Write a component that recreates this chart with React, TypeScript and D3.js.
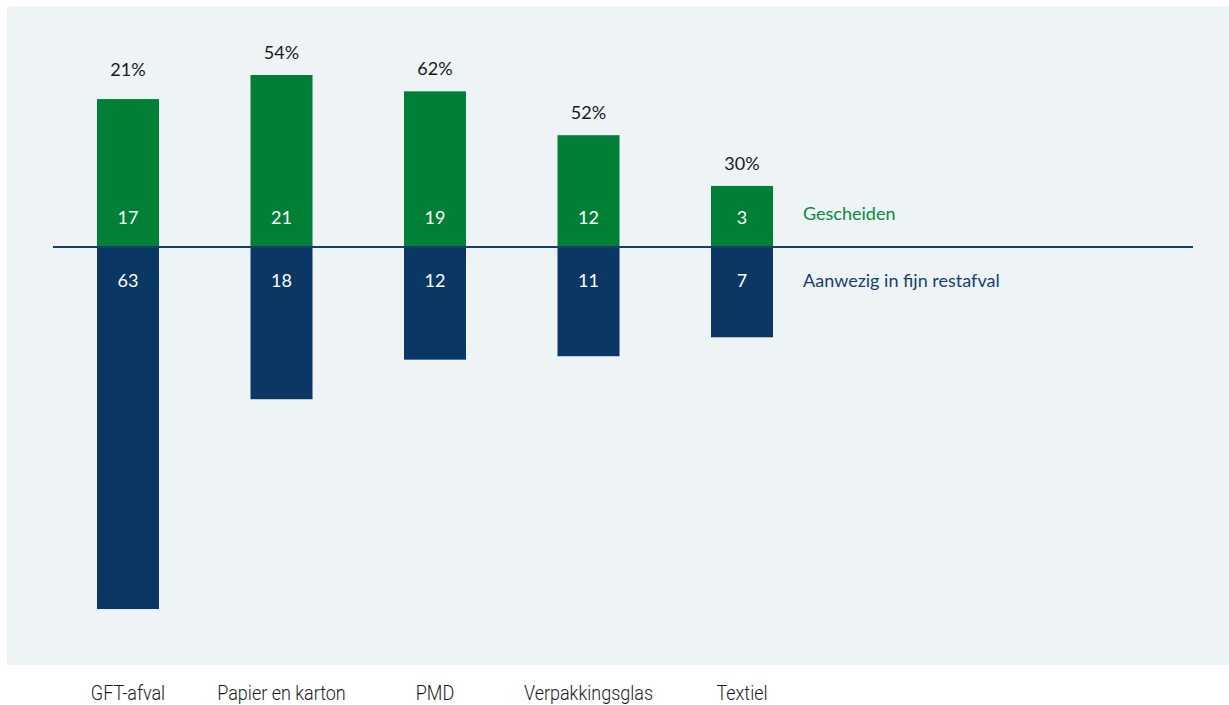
import React, { useRef, useEffect } from "react";
import * as d3 from "d3";

const categories = ["GFT-afval", "Papier en karton", "PMD", "Verpakkingsglas", "Textiel"];
// values printed in the bars
const gescheiden = [17, 21, 19, 12, 3];
const restafval = [63, 18, 12, 11, 7];
const shareLabels = ["21%", "54%", "62%", "52%", "30%"];
// bar lengths as drawn in the picture (the original is not to scale with its labels)
const greenLength = [17.2, 20, 18.1, 13, 7.1];
const blueLength = [42.1, 17.7, 13.1, 12.7, 10.5];

const GREEN = "#008037";
const NAVY = "#0b3764";

const App = () => {
  const ref = useRef<SVGSVGElement>(null);

  useEffect(() => {
    const svg = d3.select(ref.current);
    svg.selectAll("*").remove();

    const width = 1229;
    const height = 705;
    const baseY = 247;
    const barW = 62;
    const font = "Lato, 'Open Sans', sans-serif";

    svg.attr("width", width).attr("height", height);

    // panel
    svg.append("rect")
      .attr("x", 7).attr("y", 6)
      .attr("width", width - 7).attr("height", 659)
      .attr("fill", "#eef3f6");

    const x = d3.scalePoint<string>().domain(categories).range([128, 742]);
    const len = d3.scaleLinear().domain([0, 10]).range([0, 86]);

    const g = svg.append("g");

    g.selectAll(".up")
      .data(categories)
      .enter()
      .append("rect")
      .attr("x", (d) => x(d)! - barW / 2)
      .attr("y", (d, i) => baseY - len(greenLength[i]))
      .attr("width", barW)
      .attr("height", (d, i) => len(greenLength[i]))
      .attr("fill", GREEN);

    g.selectAll(".down")
      .data(categories)
      .enter()
      .append("rect")
      .attr("x", (d) => x(d)! - barW / 2)
      .attr("y", baseY)
      .attr("width", barW)
      .attr("height", (d, i) => len(blueLength[i]))
      .attr("fill", NAVY);

    // baseline
    svg.append("line")
      .attr("x1", 53).attr("x2", 1193)
      .attr("y1", baseY).attr("y2", baseY)
      .attr("stroke", "#163f6c")
      .attr("stroke-width", 2);

    g.selectAll(".share")
      .data(categories)
      .enter()
      .append("text")
      .attr("x", (d) => x(d)!)
      .attr("y", (d, i) => baseY - len(greenLength[i]) - (i === 0 ? 23 : 16))
      .attr("text-anchor", "middle")
      .attr("font-family", font)
      .attr("font-size", "18px")
      .attr("fill", "#1a1a1a")
      .text((d, i) => shareLabels[i]);

    g.selectAll(".gval")
      .data(categories)
      .enter()
      .append("text")
      .attr("x", (d) => x(d)!)
      .attr("y", 224)
      .attr("text-anchor", "middle")
      .attr("font-family", font)
      .attr("font-size", "18px")
      .attr("fill", "#ffffff")
      .text((d, i) => gescheiden[i]);

    g.selectAll(".bval")
      .data(categories)
      .enter()
      .append("text")
      .attr("x", (d) => x(d)!)
      .attr("y", 287)
      .attr("text-anchor", "middle")
      .attr("font-family", font)
      .attr("font-size", "18px")
      .attr("fill", "#ffffff")
      .text((d, i) => restafval[i]);

    svg.append("text")
      .attr("x", 803).attr("y", 220)
      .attr("font-family", font)
      .attr("font-size", "18px")
      .attr("fill", "#0b8a3e")
      .text("Gescheiden");

    svg.append("text")
      .attr("x", 803).attr("y", 287)
      .attr("font-family", font)
      .attr("font-size", "18px")
      .attr("fill", "#173f6e")
      .text("Aanwezig in fijn restafval");

    // category labels under the panel, set narrow
    g.selectAll(".cat")
      .data(categories)
      .enter()
      .append("text")
      .attr("transform", (d) => `translate(${x(d)},700) scale(0.9,1)`)
      .attr("text-anchor", "middle")
      .attr("font-family", "Roboto, sans-serif")
      .attr("font-weight", 300)
      .attr("font-size", "20px")
      .attr("fill", "#1a1a1a")
      .text((d) => d);
  }, []);

  return <svg ref={ref} style={{ position: "absolute", left: 0, top: 0 }}></svg>;
};

export default App;
